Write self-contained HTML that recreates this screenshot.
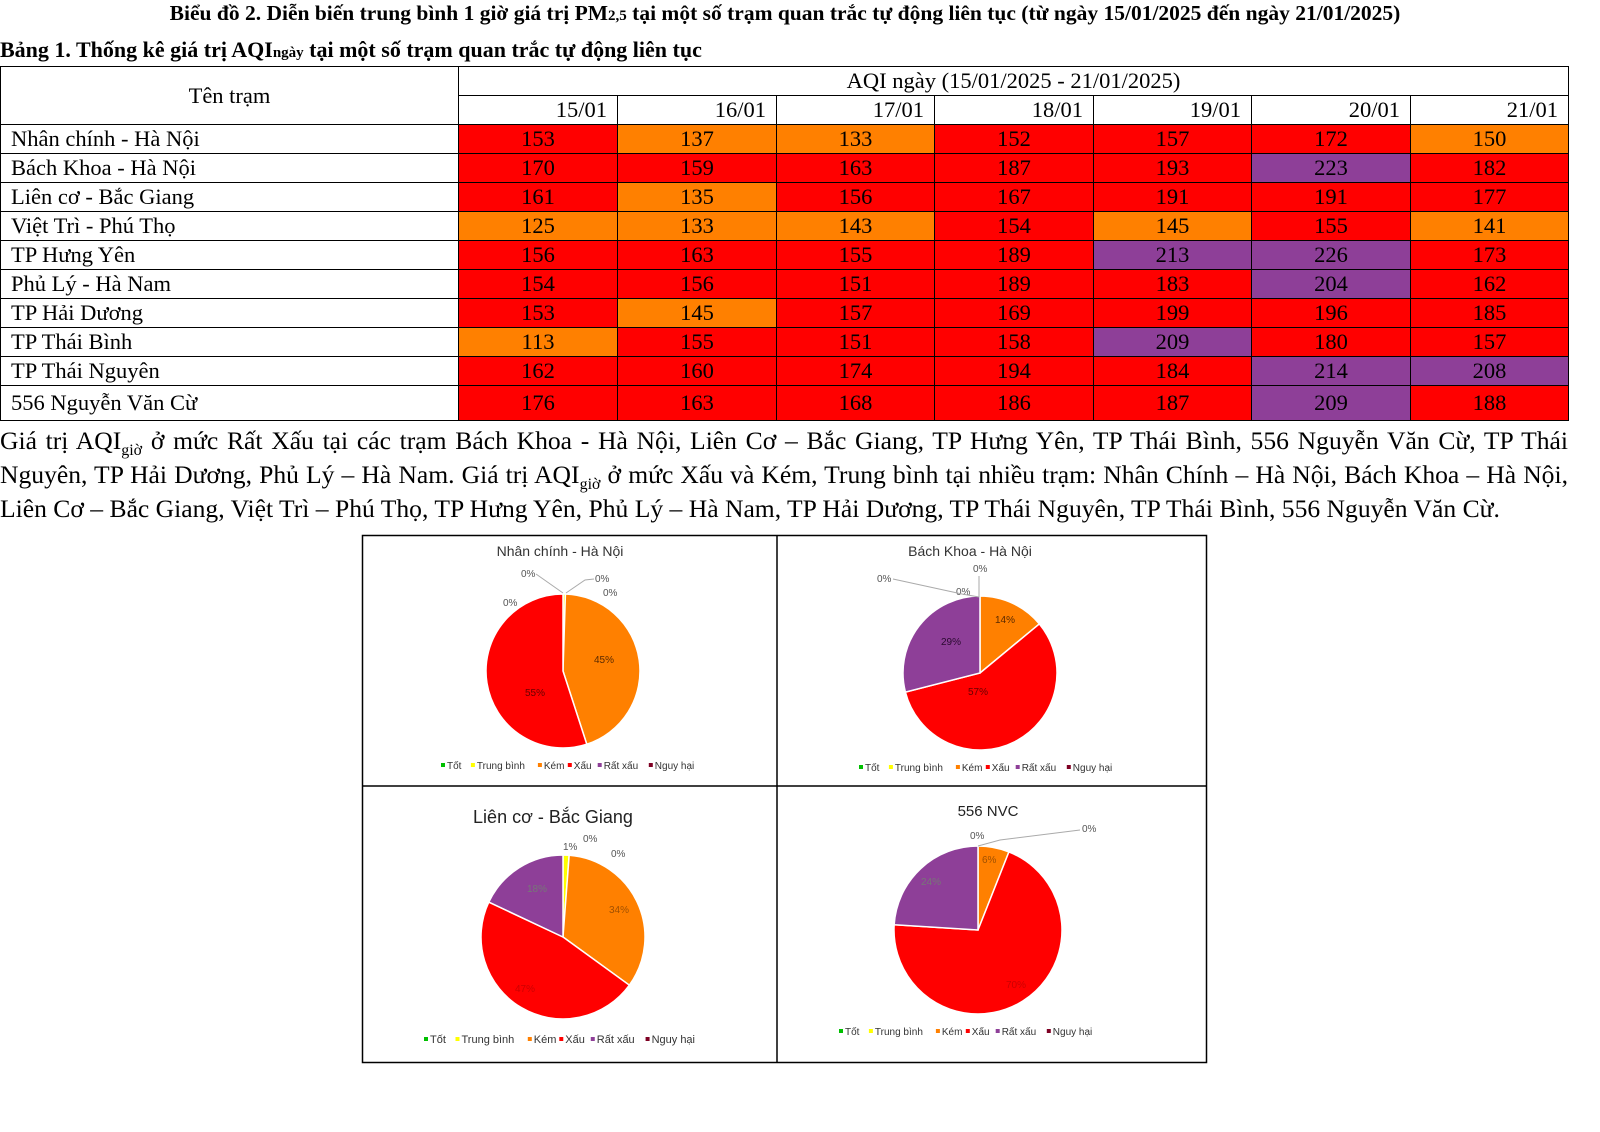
<!DOCTYPE html>
<html><head><meta charset="utf-8">
<style>
body{margin:0;width:1600px;height:1132px;background:#fff;position:relative;overflow:hidden;font-family:"Liberation Serif",serif;color:#000}
.t{position:absolute;white-space:nowrap}
table{position:absolute;left:0;top:66px;border-collapse:collapse;font-size:22.5px;table-layout:fixed;width:1568px}
td{border:1px solid #000;padding:0;height:28px;line-height:26px;text-align:center}
td.n{text-align:left;padding-left:10px}
.r{background:#ff0000}.o{background:#ff8000}.p{background:#8e3f98}
.par{position:absolute;left:0;top:424px;width:1568px;font-size:25.6px;line-height:34px;text-align:justify;text-align-last:left}
sub{line-height:0;font-size:16px}
svg text{font-family:"Liberation Sans",sans-serif}
</style></head><body>
<div class="t" style="left:0;width:1570px;text-align:center;top:1px;font-size:21.5px;font-weight:bold">Biểu đồ 2. Diễn biến trung bình 1 giờ giá trị PM<span style="font-size:15px">2,5</span> tại một số trạm quan trắc tự động liên tục (từ ngày 15/01/2025 đến ngày 21/01/2025)</div>
<div class="t" style="left:0;top:37px;font-size:22px;font-weight:bold">Bảng 1. Thống kê giá trị AQI<span style="font-size:15px">ngày</span> tại một số trạm quan trắc tự động liên tục</div>
<table>
<colgroup><col style="width:458px"><col style="width:159px"><col style="width:159px"><col style="width:158px"><col style="width:159px"><col style="width:158px"><col style="width:159px"><col style="width:158px"></colgroup>
<tr><td rowspan="2" style="height:56px">Tên trạm</td><td colspan="7">AQI ngày (15/01/2025 - 21/01/2025)</td></tr>
<tr><td style="text-align:right;padding-right:10px">15/01</td><td style="text-align:right;padding-right:10px">16/01</td><td style="text-align:right;padding-right:10px">17/01</td><td style="text-align:right;padding-right:10px">18/01</td><td style="text-align:right;padding-right:10px">19/01</td><td style="text-align:right;padding-right:10px">20/01</td><td style="text-align:right;padding-right:10px">21/01</td></tr>
<tr><td class="n">Nhân chính - Hà Nội</td><td class="r">153</td><td class="o">137</td><td class="o">133</td><td class="r">152</td><td class="r">157</td><td class="r">172</td><td class="o">150</td></tr>
<tr><td class="n">Bách Khoa - Hà Nội</td><td class="r">170</td><td class="r">159</td><td class="r">163</td><td class="r">187</td><td class="r">193</td><td class="p">223</td><td class="r">182</td></tr>
<tr><td class="n">Liên cơ - Bắc Giang</td><td class="r">161</td><td class="o">135</td><td class="r">156</td><td class="r">167</td><td class="r">191</td><td class="r">191</td><td class="r">177</td></tr>
<tr><td class="n">Việt Trì - Phú Thọ</td><td class="o">125</td><td class="o">133</td><td class="o">143</td><td class="r">154</td><td class="o">145</td><td class="r">155</td><td class="o">141</td></tr>
<tr><td class="n">TP Hưng Yên</td><td class="r">156</td><td class="r">163</td><td class="r">155</td><td class="r">189</td><td class="p">213</td><td class="p">226</td><td class="r">173</td></tr>
<tr><td class="n">Phủ Lý - Hà Nam</td><td class="r">154</td><td class="r">156</td><td class="r">151</td><td class="r">189</td><td class="r">183</td><td class="p">204</td><td class="r">162</td></tr>
<tr><td class="n">TP Hải Dương</td><td class="r">153</td><td class="o">145</td><td class="r">157</td><td class="r">169</td><td class="r">199</td><td class="r">196</td><td class="r">185</td></tr>
<tr><td class="n">TP Thái Bình</td><td class="o">113</td><td class="r">155</td><td class="r">151</td><td class="r">158</td><td class="p">209</td><td class="r">180</td><td class="r">157</td></tr>
<tr><td class="n">TP Thái Nguyên</td><td class="r">162</td><td class="r">160</td><td class="r">174</td><td class="r">194</td><td class="r">184</td><td class="p">214</td><td class="p">208</td></tr>
<tr><td class="n" style="height:34px">556 Nguyễn Văn Cừ</td><td class="r">176</td><td class="r">163</td><td class="r">168</td><td class="r">186</td><td class="r">187</td><td class="p">209</td><td class="r">188</td></tr>
</table>
<div class="par">Giá trị AQI<sub>giờ</sub> ở mức Rất Xấu tại các trạm Bách Khoa - Hà Nội, Liên Cơ – Bắc Giang, TP Hưng Yên, TP Thái Bình, 556 Nguyễn Văn Cừ, TP Thái Nguyên, TP Hải Dương, Phủ Lý – Hà Nam. Giá trị AQI<sub>giờ</sub> ở mức Xấu và Kém, Trung bình tại nhiều trạm: Nhân Chính – Hà Nội, Bách Khoa – Hà Nội, Liên Cơ – Bắc Giang, Việt Trì – Phú Thọ, TP Hưng Yên, Phủ Lý – Hà Nam, TP Hải Dương, TP Thái Nguyên, TP Thái Bình, 556 Nguyễn Văn Cừ.</div>
<svg id="ch" style="position:absolute;left:0;top:0" width="1600" height="1132">
<rect x="362.5" y="535.5" width="844" height="527" fill="#fff" stroke="#000" stroke-width="1.5"/>
<line x1="777" y1="535" x2="777" y2="1062" stroke="#000" stroke-width="1.5"/>
<line x1="362" y1="786" x2="1206" y2="786" stroke="#000" stroke-width="1.5"/>
<text x="560" y="556" font-size="14" text-anchor="middle" fill="#333">Nhân chính - Hà Nội</text>
<text x="970" y="556" font-size="14" text-anchor="middle" fill="#333">Bách Khoa - Hà Nội</text>
<text x="553" y="823" font-size="18" text-anchor="middle" fill="#222">Liên cơ - Bắc Giang</text>
<text x="988" y="816" font-size="15" text-anchor="middle" fill="#222">556 NVC</text>
<g id="pies"></g>
<g font-size="10" fill="#555">
<text x="521" y="577">0%</text><text x="595" y="582">0%</text><text x="603" y="596">0%</text><text x="503" y="606">0%</text>
<text x="594" y="663" fill="#5a2a00">45%</text><text x="525" y="696" fill="#600">55%</text>
<text x="877" y="582">0%</text><text x="973" y="572">0%</text><text x="956" y="595">0%</text>
<text x="995" y="623" fill="#5a2a00">14%</text><text x="941" y="645" fill="#2a0a30">29%</text><text x="968" y="695" fill="#600">57%</text>
<text x="583" y="842">0%</text><text x="563" y="850">1%</text><text x="611" y="857">0%</text>
<text x="527" y="892" fill="#777">18%</text><text x="609" y="913" fill="#a05000">34%</text><text x="515" y="992" fill="#c00">47%</text>
<text x="970" y="839">0%</text><text x="1082" y="832">0%</text>
<text x="982" y="863" fill="#a05000">6%</text><text x="921" y="885" fill="#777">24%</text><text x="1006" y="988" fill="#c00">70%</text>
</g>
<g stroke="#aaa" fill="none" stroke-width="1">
<polyline points="536,574 563,593"/><polyline points="594,579 585,580 566,593"/>
<polyline points="893,579 962,594 979,597"/><line x1="979" y1="576" x2="979" y2="597"/>
<polyline points="1080,830 1000,840 978,846"/>
</g>
<g id="leg" font-size="10" fill="#333"></g>
</svg>
<script>
var C={Tốt:"#00c000","Trung bình":"#ffff00",Kém:"#ff8000",Xấu:"#ff0000","Rất xấu":"#8e3f98","Nguy hại":"#7e0023"};
function pie(cx,cy,r,vals){var a=-Math.PI/2,s="";vals.forEach(function(v){var b=a+v[0]*2*Math.PI;var x1=cx+r*Math.cos(a),y1=cy+r*Math.sin(a),x2=cx+r*Math.cos(b),y2=cy+r*Math.sin(b);
s+='<path d="M'+cx+','+cy+'L'+x1+','+y1+'A'+r+','+r+' 0 '+((b-a)>Math.PI?1:0)+' 1 '+x2+','+y2+'Z" fill="'+v[1]+'" stroke="#fff" stroke-width="1.5"/>';a=b;});return s;}
var h="";
h+=pie(563,671,77,[[0.005,C["Trung bình"]],[0.445,C.Kém],[0.55,C.Xấu]]);
h+=pie(980,673,77,[[0.14,C.Kém],[0.57,C.Xấu],[0.29,C["Rất xấu"]]]);
h+=pie(563,937,82,[[0.012,C["Trung bình"]],[0.338,C.Kém],[0.47,C.Xấu],[0.18,C["Rất xấu"]]]);
h+=pie(978,930,84,[[0.06,C.Kém],[0.70,C.Xấu],[0.24,C["Rất xấu"]]]);
document.getElementById("pies").innerHTML=h;
function leg(x,y,fs){var s="",names=Object.keys(C);names.forEach(function(n){s+='<rect x="'+x+'" y="'+(y-6)+'" width="4" height="4" fill="'+C[n]+'"/><text x="'+(x+6)+'" y="'+y+'" font-size="'+fs+'">'+n+'</text>';x+=n.length*5.3*fs/10+14;});return s;}
document.getElementById("leg").innerHTML=leg(441,769,10)+leg(859,771,10)+leg(424,1043,11)+leg(839,1035,10);
</script>
</body></html>
